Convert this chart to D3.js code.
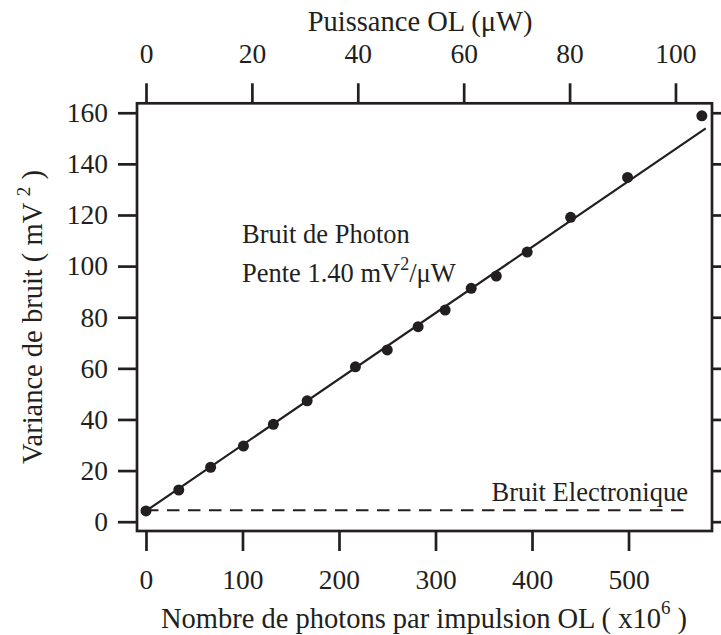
<!DOCTYPE html>
<html>
<head>
<meta charset="utf-8">
<script src="https://d3js.org/d3.v7.min.js"></script>
<style>
  body { margin:0; background:#fff; }
  svg { display:block; font-family:"Liberation Serif","Times New Roman",serif; }
  .axis text { font-size:27.5px; fill:#231f20; font-family:"Liberation Serif",serif; }
  .axis line { stroke:#231f20; stroke-width:2.7px; }
</style>
</head>
<body>
<div class="chart"></div>
<script>
// mesures : nombre de photons (x10^6) et variance de bruit (mV^2)
var photons  = [0, 34, 67, 101, 132, 167, 217, 250, 282, 310, 337, 363, 395, 440, 499, 576];
var variance = [4.2, 12.4, 21.3, 29.6, 38.1, 47.3, 60.6, 67.2, 76.3, 82.8, 91.3, 96.1, 105.5, 119.1, 134.7, 158.8];

// ajustement lineaire (bruit de photon)
var fitX = [0, 580];
var fitY = [4.2, 153.9];

// bruit electronique
var elecX = [0, 565];
var elecY = [4.5, 4.5];

var xTicks = [0, 100, 200, 300, 400, 500];
var topTicks = [0, 20, 40, 60, 80, 100];
var yTicks = [0, 20, 40, 60, 80, 100, 120, 140, 160];

var W = 721, H = 635;
var ink = "#231f20";

var svg = d3.select(".chart").append("svg")
  .attr("width", W)
  .attr("height", H);

var x = d3.scaleLinear().domain([-9.3, 586.5]).range([137, 712]);
var xTop = d3.scaleLinear().domain([-1.7, 106.9]).range([137, 712]);
var y = d3.scaleLinear().domain([-3.64, 163.7]).range([531, 103.3]);

// axes
svg.append("g").attr("class", "axis")
  .attr("transform", "translate(0," + y.range()[0] + ")")
  .call(d3.axisBottom(x).tickValues(xTicks).tickSize(20).tickSizeOuter(0).tickPadding(18));

svg.append("g").attr("class", "axis")
  .attr("transform", "translate(0," + y.range()[1] + ")")
  .call(d3.axisTop(xTop).tickValues(topTicks).tickSize(20).tickSizeOuter(0).tickPadding(20));

svg.append("g").attr("class", "axis")
  .attr("transform", "translate(" + x.range()[0] + ",0)")
  .call(d3.axisLeft(y).tickValues(yTicks).tickSize(19).tickSizeOuter(0).tickPadding(10));

svg.append("g").attr("class", "axis")
  .attr("transform", "translate(" + x.range()[1] + ",0)")
  .call(d3.axisRight(y).tickValues(yTicks).tickSize(20).tickSizeOuter(0).tickFormat(""));

svg.selectAll(".axis .domain").remove();

// cadre
svg.append("rect")
  .attr("x", x.range()[0])
  .attr("y", y.range()[1])
  .attr("width", x.range()[1] - x.range()[0])
  .attr("height", y.range()[0] - y.range()[1])
  .attr("fill", "none")
  .attr("stroke", ink)
  .attr("stroke-width", 2.7);

var line = d3.line()
  .x(function(d) { return x(d[0]); })
  .y(function(d) { return y(d[1]); });

// bruit electronique (tirets)
svg.append("path")
  .datum(d3.zip(elecX, elecY))
  .attr("d", line)
  .attr("fill", "none")
  .attr("stroke", ink)
  .attr("stroke-width", 2)
  .attr("stroke-dasharray", "12.5,8.5");

// droite d'ajustement
svg.append("path")
  .datum(d3.zip(fitX, fitY))
  .attr("d", line)
  .attr("fill", "none")
  .attr("stroke", ink)
  .attr("stroke-width", 2.2);

// points
svg.selectAll("circle.pt")
  .data(d3.zip(photons, variance))
  .enter().append("circle")
  .attr("class", "pt")
  .attr("cx", function(d) { return x(d[0]); })
  .attr("cy", function(d) { return y(d[1]); })
  .attr("r", 5.5)
  .attr("fill", ink);

// titres
svg.append("text")
  .attr("x", 424)
  .attr("y", 628)
  .attr("text-anchor", "middle")
  .attr("font-size", 28.5)
  .attr("fill", ink)
  .call(function(t) {
    t.append("tspan").text("Nombre de photons par impulsion OL ( x10");
    t.append("tspan").attr("dy", -14).attr("font-size", 19).text("6");
    t.append("tspan").attr("dy", 14).text(" )");
  });

svg.append("text")
  .attr("x", 420)
  .attr("y", 31)
  .attr("text-anchor", "middle")
  .attr("font-size", 28.5)
  .attr("fill", ink)
  .text("Puissance OL (\u03bcW)");

svg.append("text")
  .attr("transform", "translate(42,317) rotate(-90)")
  .attr("text-anchor", "middle")
  .attr("font-size", 28.5)
  .attr("fill", ink)
  .call(function(t) {
    t.append("tspan").text("Variance de bruit ( mV ");
    t.append("tspan").attr("dy", -12).attr("font-size", 19).text("2");
    t.append("tspan").attr("dy", 12).text(" )");
  });

// annotations
svg.append("text")
  .attr("x", 242)
  .attr("y", 243)
  .attr("font-size", 26.5)
  .attr("fill", ink)
  .text("Bruit de Photon");

svg.append("text")
  .attr("x", 242)
  .attr("y", 281.5)
  .attr("font-size", 26.5)
  .attr("fill", ink)
  .call(function(t) {
    t.append("tspan").text("Pente 1.40 mV");
    t.append("tspan").attr("dy", -12).attr("font-size", 18).text("2");
    t.append("tspan").attr("dy", 12).text("/\u03bcW");
  });

svg.append("text")
  .attr("x", 688)
  .attr("y", 500.5)
  .attr("text-anchor", "end")
  .attr("font-size", 26.5)
  .attr("fill", ink)
  .text("Bruit Electronique");
</script>
</body>
</html>
